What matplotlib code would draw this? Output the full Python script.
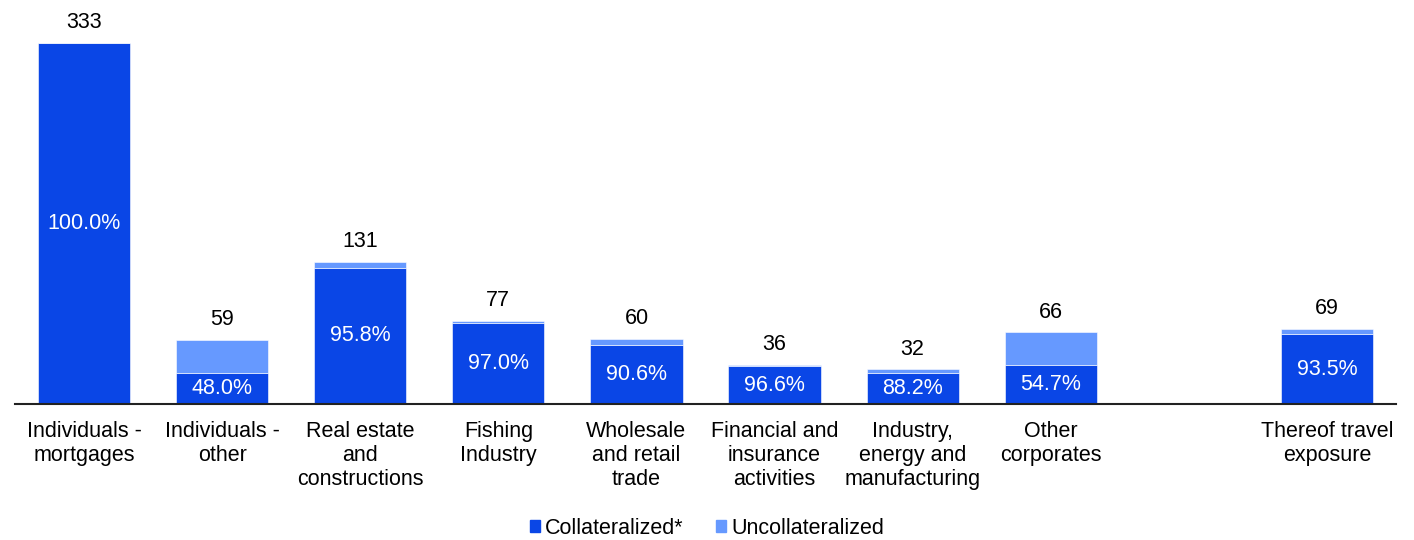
import numpy as np
import matplotlib.pyplot as plt
from matplotlib.patches import Patch

plt.rcParams["font.family"] = ["Liberation Sans", "DejaVu Sans"]

# exposure by sector, with share that is collateralized
categories = [
    "Individuals -\nmortgages",
    "Individuals -\nother",
    "Real estate\nand\nconstructions",
    "Fishing\nIndustry",
    "Wholesale\nand retail\ntrade",
    "Financial and\ninsurance\nactivities",
    "Industry,\nenergy and\nmanufacturing",
    "Other\ncorporates",
    "Thereof travel\nexposure",
]
totals = np.array([333, 59, 131, 77, 60, 36, 32, 66, 69])
collat_pct = np.array([100.0, 48.0, 95.8, 97.0, 90.6, 96.6, 88.2, 54.7, 93.5])

DARK = "#0a46e6"
LIGHT = "#6699ff"
FS = 15.5

# travel exposure sits apart from the other sectors
xpos = np.array([0, 1, 2, 3, 4, 5, 6, 7, 9])

collat = totals * collat_pct / 100
uncollat = totals - collat

fig = plt.figure(figsize=(14.14, 5.4), dpi=100)
ax = fig.add_axes([15 / 1414, 1 - 404 / 540, 1381 / 1414, 374 / 540])

w = 0.667
ax.bar(xpos, collat, width=w, color=DARK, edgecolor="white", linewidth=0.4)
ax.bar(xpos, uncollat, width=w, bottom=collat, color=LIGHT,
       edgecolor="white", linewidth=0.4)

for xi, tot, c, p in zip(xpos, totals, collat, collat_pct):
    ax.text(xi, tot + 9, f"{tot}", ha="center", va="bottom", fontsize=FS,
            color="black")
    ax.text(xi, c / 2, f"{p:.1f}%", ha="center", va="center",
            fontsize=FS, color="white")

for xi, lab in zip(xpos, categories):
    ax.text(xi, -16, lab, ha="center", va="top", fontsize=FS,
            linespacing=1.17, color="black")

ax.set_xlim(-0.5, 9.5)
ax.set_ylim(0, 345)
for s in ["top", "right", "left"]:
    ax.spines[s].set_visible(False)
ax.spines["bottom"].set_linewidth(1.5)
ax.spines["bottom"].set_color("#222222")
ax.set_xticks([])
ax.set_yticks([])

handles = [Patch(color=DARK, label="Collateralized*"),
           Patch(color=LIGHT, label="Uncollateralized")]
fig.legend(handles=handles, loc="center", bbox_to_anchor=(0.5, 1 - 528 / 540),
           ncol=2, frameon=False, fontsize=FS, handlelength=0.45,
           handleheight=0.45, handletextpad=0.25, columnspacing=1.5)

fig.savefig("out.png", dpi=100)
